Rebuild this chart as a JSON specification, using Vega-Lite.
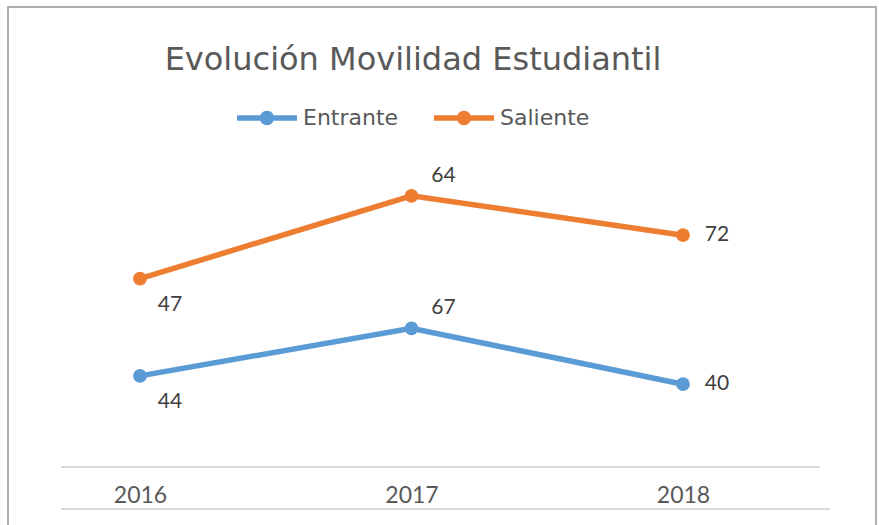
{
  "$schema": "https://vega.github.io/schema/vega-lite/v6.json",
  "width": 868,
  "height": 530,
  "autosize": {"type": "none"},
  "padding": {"left": 8, "top": 7, "right": 3, "bottom": -12},
  "background": "white",
  "title": {
    "text": "Evolución Movilidad Estudiantil",
    "font": "DejaVu Sans",
    "fontSize": 32,
    "fontWeight": "normal",
    "color": "#595959",
    "anchor": "middle",
    "frame": "group",
    "offset": -70,
    "dx": -29
  },
  "config": {
    "view": {"stroke": "#b0b0b0", "strokeWidth": 2},
    "font": "Lato"
  },
  "layer": [
    {
      "data": {"values": [{"linea": "eje"}]},
      "mark": {"type": "rule", "color": "#d9d9d9", "strokeWidth": 2},
      "encoding": {
        "x": {"datum": 2015.709, "type": "quantitative"},
        "x2": {"datum": 2018.505},
        "y": {"datum": 0, "type": "quantitative"}
      }
    },
    {
      "data": {"values": [{"linea": "base"}]},
      "mark": {"type": "rule", "color": "#d9d9d9", "strokeWidth": 2},
      "encoding": {
        "x": {"datum": 2015.709, "type": "quantitative"},
        "x2": {"datum": 2018.541},
        "y": {"datum": -20.3, "type": "quantitative"}
      }
    },
    {
      "data": {
        "values": [
          {"anio": 2016, "serie": "Entrante", "valor": 44},
          {"anio": 2017, "serie": "Entrante", "valor": 67},
          {"anio": 2018, "serie": "Entrante", "valor": 40},
          {"anio": 2016, "serie": "Saliente", "valor": 47},
          {"anio": 2017, "serie": "Saliente", "valor": 64},
          {"anio": 2018, "serie": "Saliente", "valor": 72}
        ]
      },
      "transform": [
        {"stack": "valor", "groupby": ["anio"], "sort": [{"field": "serie", "order": "ascending"}], "as": ["v0", "v1"]}
      ],
      "layer": [
        {
          "mark": {"type": "line", "strokeWidth": 5.5},
          "encoding": {
            "x": {
              "field": "anio", "type": "quantitative",
              "scale": {"domain": [2015.5138, 2018.7109], "nice": false, "zero": false},
              "axis": {
                "orient": "bottom", "offset": -70, "values": [2016, 2017, 2018], "format": "d",
                "domain": false, "ticks": false, "grid": false, "labelPadding": 17,
                "labelFontSize": 23, "labelColor": "#595959", "labelFont": "Lato", "title": null
              }
            },
            "y": {
              "field": "v1", "type": "quantitative",
              "scale": {"domain": [-33.82, 222.22], "nice": false, "zero": false},
              "axis": null
            },
            "color": {
              "field": "serie", "type": "nominal",
              "scale": {"domain": ["Entrante", "Saliente"], "range": ["#5b9bd5", "#ed7d31"]},
              "legend": {
                "orient": "none", "legendX": 229, "legendY": 81, "direction": "horizontal",
                "title": null, "padding": 0, "columnPadding": 35, "labelOffset": 6,
                "labelFont": "DejaVu Sans", "labelFontSize": 22, "labelColor": "#595959",
                "symbolType": "M-1,-0.09L1,-0.09L1,0.09L-1,0.09Z M0.24,0A0.24,0.24 0 1,1 -0.24,0A0.24,0.24 0 1,1 0.24,0Z",
                "symbolSize": 3600, "symbolStrokeWidth": 0,
                "symbolFillColor": "#5b9bd5"
              }
            }
          }
        },
        {
          "mark": {"type": "point", "filled": true, "size": 190, "opacity": 1},
          "encoding": {
            "x": {"field": "anio", "type": "quantitative"},
            "y": {"field": "v1", "type": "quantitative"},
            "color": {"field": "serie", "type": "nominal"}
          }
        },
        {
          "transform": [{"filter": "datum.anio == 2016"}],
          "mark": {"type": "text", "font": "Lato", "fontSize": 21, "color": "#404040", "dx": 30, "dy": 26},
          "encoding": {
            "x": {"field": "anio", "type": "quantitative"},
            "y": {"field": "v1", "type": "quantitative"},
            "text": {"field": "valor", "type": "quantitative"}
          }
        },
        {
          "transform": [{"filter": "datum.anio == 2017"}],
          "mark": {"type": "text", "font": "Lato", "fontSize": 21, "color": "#404040", "dx": 32, "dy": -20},
          "encoding": {
            "x": {"field": "anio", "type": "quantitative"},
            "y": {"field": "v1", "type": "quantitative"},
            "text": {"field": "valor", "type": "quantitative"}
          }
        },
        {
          "transform": [{"filter": "datum.anio == 2018"}],
          "mark": {"type": "text", "font": "Lato", "fontSize": 21, "color": "#404040", "dx": 34, "dy": 0},
          "encoding": {
            "x": {"field": "anio", "type": "quantitative"},
            "y": {"field": "v1", "type": "quantitative"},
            "text": {"field": "valor", "type": "quantitative"}
          }
        }
      ]
    }
  ]
}
